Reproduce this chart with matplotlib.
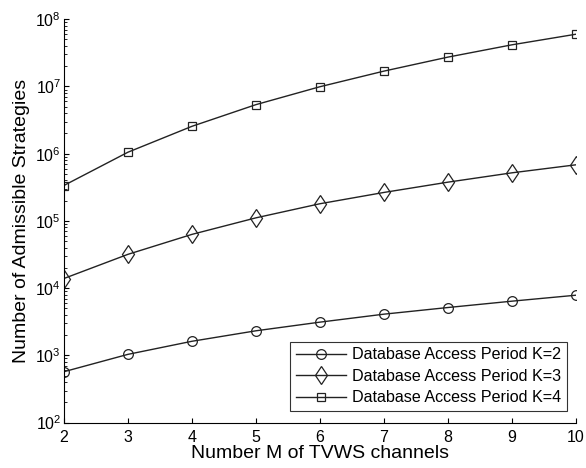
import matplotlib
matplotlib.use('Agg')
import matplotlib.pyplot as plt
from matplotlib.ticker import NullFormatter

plt.rcParams['font.family'] = ['Liberation Sans', 'DejaVu Sans']

channels = [2, 3, 4, 5, 6, 7, 8, 9, 10]
k2 = [571, 1035, 1620, 2320, 3120, 4100, 5150, 6400, 7850]
k3 = [13900, 31800, 63000, 111000, 180000, 265000, 377000, 519000, 683000]
k4 = [3.36e5, 1.05e6, 2.55e6, 5.36e6, 9.9e6, 1.69e7, 2.73e7, 4.16e7, 5.98e7]
labels = ['Database Access Period K=2', 'Database Access Period K=3',
          'Database Access Period K=4']

fig = plt.figure(figsize=(5.86, 4.68), dpi=100)
ax = fig.add_axes([0.109, 0.097, 0.874, 0.862])

style = dict(color='#222222', linewidth=1, markerfacecolor='none',
             markeredgecolor='#222222', markeredgewidth=0.9)
ax.plot(channels, k2, marker='o', markersize=7, label=labels[0], **style)
ax.plot(channels, k3, marker='d', markersize=9.5, label=labels[1], **style)
ax.plot(channels, k4, marker='s', markersize=6, label=labels[2], **style)

ax.set_yscale('log')
ax.set_xlim(2, 10)
ax.set_ylim(1e2, 1e8)
ax.set_xticks(channels)
ax.yaxis.set_minor_formatter(NullFormatter())
ax.spines['top'].set_visible(False)
ax.spines['right'].set_visible(False)
ax.tick_params(which='both', direction='in', labelsize=11.5)
ax.tick_params(axis='x', pad=5)
ax.tick_params(axis='y', pad=2)
ax.set_xlabel('Number M of TVWS channels', fontsize=14, labelpad=0.5)
ax.set_ylabel('Number of Admissible Strategies', fontsize=14, labelpad=4)

leg = ax.legend(loc='lower right', fontsize=11.6, frameon=True, fancybox=False,
                edgecolor='black', handlelength=3.1, borderpad=0.35,
                labelspacing=0.4, handletextpad=0.4, borderaxespad=0,
                bbox_to_anchor=(0.982, 0.029))
leg.get_frame().set_linewidth(0.8)

fig.savefig('out.png', dpi=100)
